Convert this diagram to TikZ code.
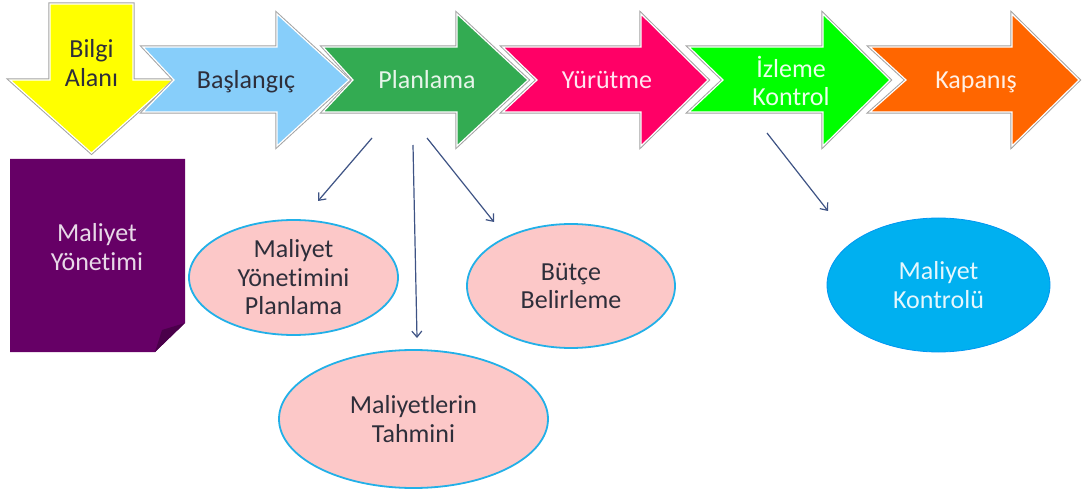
\documentclass[tikz,border=0pt]{standalone}
\usepackage{fontspec}
\setmainfont{Carlito}[Ligatures=NoCommon]
\usetikzlibrary{shapes.geometric,arrows.meta}

\definecolor{cYellow}{HTML}{FFFF00}
\definecolor{cSky}{HTML}{87CEFA}
\definecolor{cGreen}{HTML}{33AB52}
\definecolor{cMagenta}{HTML}{FF0066}
\definecolor{cLime}{HTML}{00FF00}
\definecolor{cOrange}{HTML}{FF6600}
\definecolor{cPurple}{HTML}{660066}
\definecolor{cPurpleDark}{HTML}{4A004A}
\definecolor{cPink}{HTML}{FCC8C8}
\definecolor{cRim}{HTML}{22B0E8}
\definecolor{cCyan}{HTML}{00B0F0}
\definecolor{cConn}{HTML}{3E5384}
\definecolor{cDark}{HTML}{2E2E3A}
\definecolor{cOutline}{HTML}{A3A3A3}

\newcommand\lblfont{\fontsize{26}{28.5}\selectfont}

% process chevron: left x, notch x, shoulder x, tip x, fill colour
\newcommand\procchevron[5]{%
  \path[chevshadow] (#1,47)--(#3,47)--(#3,14)--(#4,80)--(#3,146)--(#3,112)--(#1,112)--(#2,80)--cycle;
  \path[chevfill=#5] (#1,47)--(#3,47)--(#3,14)--(#4,80)--(#3,146)--(#3,112)--(#1,112)--(#2,80)--cycle;
}

\begin{document}
\begin{tikzpicture}[x=1pt,y=-1pt,
  chevshadow/.style={draw=cOutline, line width=3.2pt, line join=miter},
  chevfill/.style={fill=#1, draw=white, line width=1.2pt, line join=miter},
  steplabel/.style={align=center, font=\lblfont, inner sep=0pt},
  oneline/.style={steplabel, anchor=base},
  pinkell/.style={ellipse, fill=cPink, draw=cRim, line width=1.8pt, inner sep=0pt,
    align=center, text=cDark, font=\lblfont},
  conn/.style={draw=cConn, line width=1.2pt, -{Straight Barb[length=6pt,width=10pt]}}]
\useasboundingbox (0,0) rectangle (1089,494);

% knowledge-area arrow pointing down
\path[chevshadow] (50,4)--(133,4)--(133,80)--(173,80)--(91.5,153)--(10,80)--(50,80)--cycle;
\path[chevfill=cYellow] (50,4)--(133,4)--(133,80)--(173,80)--(91.5,153)--(10,80)--(50,80)--cycle;
\node[steplabel, text=cDark] (bilgi) at (91.5,63) {Bilgi\\Alanı};

% process phases
\procchevron{143}{174}{277}{349}{cSky}
\procchevron{323}{353}{457}{528}{cGreen}
\procchevron{503}{537}{641}{708}{cMagenta}
\procchevron{689}{723}{823}{890}{cLime}
\procchevron{870}{906}{1012}{1079}{cOrange}

\node[oneline, text=cDark] (baslangic) at (246,89) {Başlangıç};
\node[oneline, text=white!88!cGreen] (planlama) at (427,89) {Planlama};
\node[oneline, text=white!90!cMagenta] (yurutme) at (607,89) {Yürütme};
\node[steplabel, text=white!92!cLime] (izleme) at (791,81) {İzleme\\Kontrol};
\node[oneline, text=white!90!cOrange] (kapanis) at (976,89) {Kapanış};

% cost management note with folded corner
\fill[cPurple] (10,159)--(185,159)--(185,323)--(155,352)--(10,352)--cycle;
\fill[cPurpleDark] (185,323)--(155,352)--(162,330)--cycle;
\node[steplabel, text=white!85!cPurple] (maliyet) at (97,247) {Maliyet\\Yönetimi};

% planning outputs
\node[pinkell, minimum width=209pt, minimum height=115pt] (plan) at (293.5,277.5)
  {Maliyet\\Yönetimini\\Planlama};
\node[pinkell, minimum width=208pt, minimum height=124pt] (butce) at (571,286)
  {Bütçe\\Belirleme};
\node[pinkell, minimum width=269pt, minimum height=138pt] (tahmin) at (413.5,419)
  {Maliyetlerin\\Tahmini};
\node[ellipse, fill=cCyan, draw=cCyan!85!blue, line width=0.8pt, inner sep=0pt,
  minimum width=223pt, minimum height=134pt, align=center, font=\lblfont,
  text=white!90!cCyan] (kontrol) at (938.5,285) {Maliyet\\Kontrolü};

% connectors
\coordinate (p1s) at (372,138);
\coordinate (p1e) at (318,201);
\coordinate (p2s) at (413,145);
\coordinate (p2e) at (417,338);
\coordinate (p3s) at (427,138);
\coordinate (p3e) at (494,222);
\coordinate (k1s) at (767,133);
\coordinate (k1e) at (828,211);
\draw[conn] (p1s) -- (p1e);
\draw[conn] (p2s) -- (p2e);
\draw[conn] (p3s) -- (p3e);
\draw[conn] (k1s) -- (k1e);
\end{tikzpicture}
\end{document}
